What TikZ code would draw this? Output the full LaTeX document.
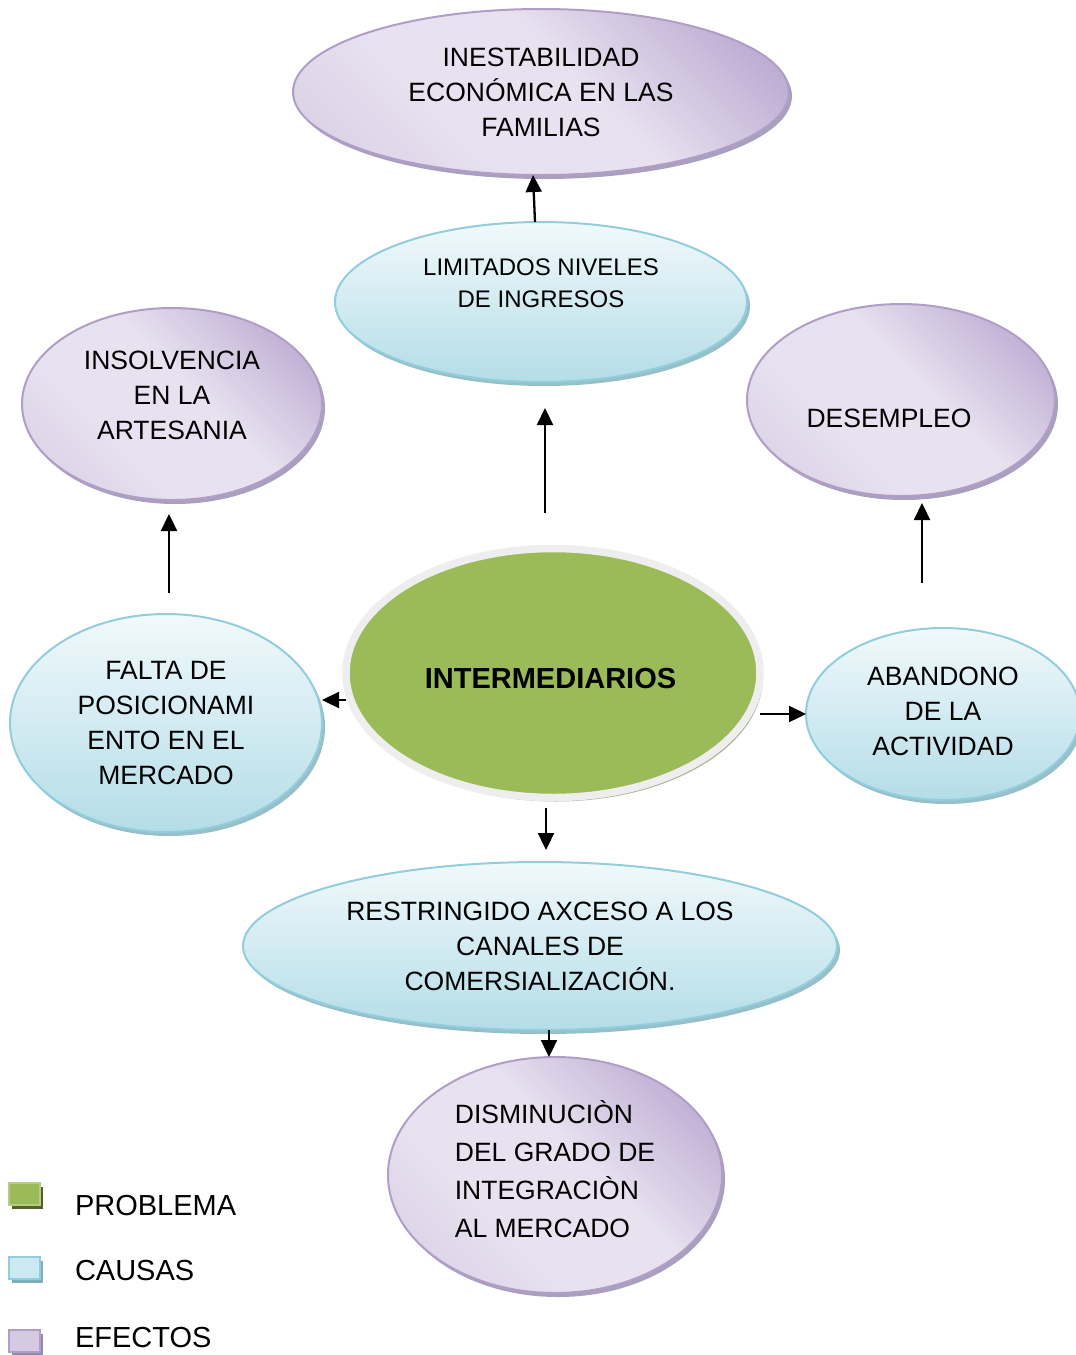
\documentclass[tikz,border=0pt]{standalone}
\usepackage{fontspec}
\setmainfont{Liberation Sans}
\usetikzlibrary{arrows.meta,shapes.geometric,shadows,positioning}
\definecolor{efline}{RGB}{176,158,198}
\definecolor{efin}{RGB}{232,226,240}
\definecolor{efmid}{RGB}{204,190,220}
\definecolor{efout}{RGB}{186,167,208}
\definecolor{efshadow}{RGB}{150,135,175}
\definecolor{caline}{RGB}{146,205,220}
\definecolor{catop}{RGB}{241,249,251}
\definecolor{cabot}{RGB}{180,221,232}
\definecolor{cashadow}{RGB}{125,175,188}
\definecolor{prfill}{RGB}{155,187,89}
\definecolor{prring}{RGB}{238,238,238}
\definecolor{prshadow}{RGB}{160,170,135}
\definecolor{prlight}{RGB}{181,204,132}
\definecolor{prdark}{RGB}{79,98,40}
\pgfdeclarehorizontalshading{efshade}{100bp}{color(0bp)=(efmid); color(38bp)=(efin); color(55bp)=(efin); color(80bp)=(efout); color(100bp)=(efout)}

\begin{document}
\begin{tikzpicture}[x=1pt,y=-1pt]
	\tikzstyle{every node}=[font=\fontsize{26.5}{35}\selectfont, align=center, inner sep=0pt, outer sep=0pt, text=black]
	\tikzstyle{efecto}=[ellipse, draw=efline, line width=2pt, shade, shading=efshade, shading angle=45,
		drop shadow={shadow xshift=3pt, shadow yshift=-4pt, fill=efshadow, opacity=0.8}]
	\tikzstyle{causa}=[ellipse, draw=caline, line width=2pt, top color=catop, bottom color=cabot,
		drop shadow={shadow xshift=3pt, shadow yshift=-4pt, fill=cashadow, opacity=0.8}]
	\tikzstyle{problema}=[ellipse, draw=prring, line width=7.5pt, fill=prfill,
		drop shadow={shadow xshift=3pt, shadow yshift=-4pt, fill=prshadow, opacity=0.9}]
	\tikzstyle{legbox}=[rectangle, line width=1.5pt, minimum width=31pt, minimum height=22pt]
	\tikzstyle{legtext}=[font=\fontsize{29}{35}\selectfont]
	\tikzstyle{flecha}=[-{Triangle[length=17pt,width=16pt]}, line width=2.3pt, black]

	\useasboundingbox (0,0) rectangle (1076,1355);

	\node[efecto, minimum width=496pt, minimum height=166pt] (ine) at (541,92) {INESTABILIDAD\\ECONÓMICA EN LAS\\FAMILIAS};
	\node[causa, minimum width=412pt, minimum height=160pt, font=\fontsize{24}{32}\selectfont] (lim) at (541,302) {LIMITADOS NIVELES\\DE INGRESOS\\[6pt]\mbox{}};
	\node[efecto, minimum width=300pt, minimum height=192pt] (ins) at (172,404) {INSOLVENCIA\\EN LA\\ARTESANIA\\[-17pt]\mbox{}};
	\node[efecto, minimum width=308pt, minimum height=192pt] (des) at (901,400) {\raisebox{-27.5pt}[0pt][0pt]{DESEMPLEO}\hspace*{24pt}};
	\node[problema, minimum width=414pt, minimum height=249pt, font=\bfseries\fontsize{29}{35}\selectfont] (mid) at (553,673) {\raisebox{-15.5pt}[0pt][0pt]{INTERMEDIARIOS}\hspace*{5pt}};
	\node[causa, minimum width=312pt, minimum height=218pt] (fal) at (166,723) {FALTA DE\\POSICIONAMI\\ENTO EN EL\\MERCADO};
	\node[causa, minimum width=274pt, minimum height=172pt] (aba) at (943,714) {ABANDONO\\DE LA\\ACTIVIDAD\\[-29pt]\mbox{}};
	\node[causa, minimum width=594pt, minimum height=168pt] (res) at (540,946) {RESTRINGIDO AXCESO A LOS\\CANALES DE\\COMERSIALIZACIÓN.};
	\node[efecto, minimum width=334pt, minimum height=236pt, align=left, font=\fontsize{26.5}{38}\selectfont] (dis) at (555,1175) {DISMINUCIÒN\\DEL GRADO DE\\INTEGRACIÒN\\AL MERCADO\\[-26pt]\mbox{}};

	% leyenda
	\node[legbox, draw=prlight, fill=prfill, drop shadow={shadow xshift=3pt, shadow yshift=-4pt, fill=prdark, opacity=1}] (lpr) at (24.5,1194) {};
	\node[legbox, draw=caline, fill=catop!40!cabot, drop shadow={shadow xshift=3pt, shadow yshift=-4pt, fill=cashadow, opacity=1}] (lca) at (24.5,1268) {};
	\node[legbox, draw=efline, fill=efin!60!efout, drop shadow={shadow xshift=3pt, shadow yshift=-4pt, fill=efshadow, opacity=1}] (lef) at (24.5,1341) {};
	\node[legtext, right=35pt of lpr, yshift=-12pt] (tpr) {PROBLEMA};
	\node[legtext, right=35pt of lca, yshift=-3pt] (tca) {CAUSAS};
	\node[legtext, right=35pt of lef, yshift=4pt] (tef) {EFECTOS};

	\draw[flecha] ([xshift=-6pt]lim.north) -- ([xshift=-8pt]ine.south);
	\draw[flecha, shorten <=35.5pt, shorten >=26pt] ([xshift=-8pt]mid.north) -- ([xshift=4pt]lim.south);
	\draw[flecha, shorten <=21pt, shorten >=14pt] ([xshift=3pt]fal.north) -- ([xshift=-3pt]ins.south);
	\draw[flecha, shorten <=45pt, shorten >=7pt] ([xshift=-21pt]aba.north) -- ([xshift=21pt]des.south);
	\draw[flecha] ([yshift=-27pt]mid.west) -- ([yshift=23pt]fal.east);
	\draw[flecha] ([yshift=-41pt]mid.east) -- (aba.west);
	\draw[flecha, shorten <=10.5pt, shorten >=12pt] ([xshift=-7pt]mid.south) -- ([xshift=6pt]res.north);
	\draw[flecha] ([xshift=9pt]res.south) -- ([xshift=-6pt]dis.north);
\end{tikzpicture}
\end{document}
